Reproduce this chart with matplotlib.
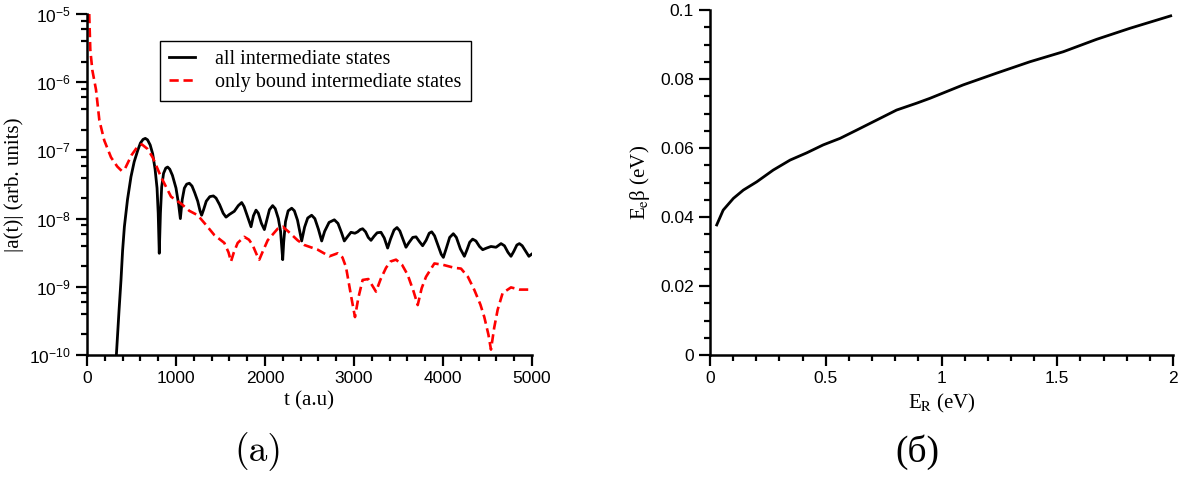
import numpy as np
import matplotlib
matplotlib.use('Agg')
import matplotlib.pyplot as plt
from matplotlib.ticker import LogLocator, MultipleLocator, NullFormatter

plt.rcParams['font.family'] = ['Liberation Sans', 'DejaVu Sans']
plt.rcParams['mathtext.fontset'] = 'stix'
plt.rcParams['mathtext.default'] = 'regular'

# (a) |a(t)| vs t, all intermediate states
t_all = [330, 360, 382, 400, 420, 455, 494, 530, 570, 600, 630, 655, 680, 710, 738,
         765, 787, 800, 812, 825, 839, 860, 885, 906, 930, 960, 1000, 1030, 1049, 1070,
         1094, 1120, 1150, 1180, 1210, 1244, 1270, 1288, 1310, 1340, 1380, 1420, 1450,
         1490, 1530, 1562, 1600, 1655, 1700, 1738, 1765, 1800, 1843, 1870, 1899, 1925,
         1960, 1993, 2020, 2050, 2086, 2115, 2150, 2175, 2190, 2199, 2210, 2230, 2260,
         2300, 2330, 2365, 2412, 2445, 2480, 2524, 2560, 2600, 2637, 2670, 2720, 2779,
         2820, 2860, 2891, 2930, 2966, 3010, 3041, 3070, 3097, 3130, 3160, 3191, 3225,
         3260, 3303, 3340, 3378, 3410, 3450, 3483, 3515, 3550, 3584, 3615, 3660, 3697,
         3735, 3771, 3810, 3845, 3873, 3905, 3945, 3980, 4004, 4035, 4075, 4116, 4150,
         4195, 4240, 4270, 4300, 4333, 4370, 4410, 4446, 4490, 4539, 4596, 4630, 4652,
         4690, 4730, 4764, 4795, 4830, 4858, 4890, 4930, 4965, 4995]
a_all = [1.0e-10, 4.5e-10, 1.26e-9, 3.4e-9, 7.6e-9, 1.9e-8, 4.1e-8, 6.8e-8, 1.0e-7,
         1.28e-7, 1.45e-7, 1.5e-7, 1.43e-7, 1.2e-7, 8.9e-8, 5.3e-8, 2.8e-8, 1.2e-8,
         3.1e-9, 1.2e-8, 2.9e-8, 4.6e-8, 5.5e-8, 5.7e-8, 5.3e-8, 4.3e-8, 2.8e-8, 1.6e-8,
         1.0e-8, 1.9e-8, 2.8e-8, 3.2e-8, 3.3e-8, 3.0e-8, 2.4e-8, 1.8e-8, 1.3e-8, 1.12e-8,
         1.35e-8, 1.8e-8, 2.1e-8, 2.15e-8, 2.0e-8, 1.6e-8, 1.2e-8, 1.05e-8, 1.15e-8,
         1.28e-8, 1.55e-8, 1.72e-8, 1.5e-8, 1.1e-8, 7.6e-9, 1.1e-8, 1.33e-8, 1.2e-8,
         8.5e-9, 6.9e-9, 9.5e-9, 1.35e-8, 1.55e-8, 1.4e-8, 1.0e-8, 6.5e-9, 3.5e-9, 2.5e-9,
         4.5e-9, 9.0e-9, 1.3e-8, 1.42e-8, 1.3e-8, 9.5e-9, 4.7e-9, 7.5e-9, 1.02e-8,
         1.12e-8, 1.0e-8, 7.0e-9, 4.7e-9, 6.5e-9, 8.8e-9, 9.6e-9, 8.5e-9, 6.2e-9, 4.7e-9,
         5.5e-9, 6.3e-9, 6.1e-9, 6.4e-9, 6.9e-9, 7.1e-9, 6.4e-9, 5.3e-9, 4.8e-9, 5.5e-9,
         6.2e-9, 6.3e-9, 5.2e-9, 3.7e-9, 5.0e-9, 6.8e-9, 7.4e-9, 6.6e-9, 5.0e-9, 3.8e-9,
         4.4e-9, 5.3e-9, 5.4e-9, 4.6e-9, 4.0e-9, 4.8e-9, 6.1e-9, 6.4e-9, 5.6e-9, 4.0e-9,
         3.0e-9, 2.7e-9, 3.6e-9, 5.3e-9, 6.0e-9, 5.3e-9, 3.6e-9, 2.8e-9, 3.5e-9, 4.5e-9,
         5.0e-9, 4.7e-9, 3.9e-9, 3.5e-9, 3.7e-9, 3.9e-9, 3.8e-9, 4.1e-9, 4.3e-9, 4.0e-9,
         3.2e-9, 2.8e-9, 3.3e-9, 4.1e-9, 4.3e-9, 4.0e-9, 3.3e-9, 2.8e-9, 3.0e-9]

# only bound intermediate states
t_bound = [25, 37, 60, 101, 139, 194, 270, 340, 390, 430, 500, 560, 615, 680, 738, 831,
           944, 1056, 1150, 1244, 1340, 1430, 1543, 1590, 1618, 1650, 1693, 1767, 1820,
           1861, 1905, 1936, 1975, 2030, 2142, 2200, 2260, 2367, 2442, 2592, 2723, 2816,
           2870, 2910, 2970, 3011, 3050, 3097, 3161, 3247, 3300, 3360, 3410, 3472, 3540,
           3603, 3670, 3716, 3760, 3809, 3903, 4000, 4127, 4202, 4280, 4352, 4420, 4464,
           4510, 4539, 4575, 4614, 4670, 4764, 4858, 4995]
a_bound = [1.0e-5, 3.0e-6, 1.5e-6, 7.8e-7, 2.75e-7, 1.4e-7, 7.9e-8, 5.8e-8, 5.0e-8,
           5.5e-8, 8.5e-8, 1.1e-7, 1.23e-7, 1.05e-7, 7.9e-8, 4.1e-8, 2.1e-8, 1.66e-8,
           1.3e-8, 1.12e-8, 8e-9, 5.75e-9, 4.4e-9, 3.2e-9, 2.35e-9, 3.2e-9, 4.4e-9, 5.4e-9,
           4.9e-9, 4.1e-9, 3.0e-9, 2.5e-9, 3.3e-9, 4.8e-9, 7.1e-9, 7.6e-9, 6.5e-9, 4.8e-9,
           4.1e-9, 3.5e-9, 2.8e-9, 3.1e-9, 2.7e-9, 1.95e-9, 7e-10, 3.6e-10, 7e-10, 1.26e-9,
           1.3e-9, 8.5e-10, 1.3e-9, 1.9e-9, 2.35e-9, 2.5e-9, 2.1e-9, 1.5e-9, 8.5e-10,
           5.4e-10, 9.5e-10, 1.4e-9, 2.2e-9, 2.1e-9, 1.9e-9, 1.85e-9, 1.4e-9, 9e-10,
           5.5e-10, 3.6e-10, 2.0e-10, 1.2e-10, 2.5e-10, 4.6e-10, 8.1e-10, 9.8e-10, 9.1e-10,
           9.1e-10]

# (б) E_e beta vs E_R
e_r = [0.029, 0.057, 0.101, 0.144, 0.202, 0.273, 0.346, 0.418, 0.489, 0.562, 0.634,
       0.720, 0.806, 0.893, 0.950, 1.094, 1.238, 1.382, 1.526, 1.670, 1.814, 1.99]
e_beta = [0.0377, 0.0420, 0.0454, 0.0478, 0.0502, 0.0536, 0.0565, 0.0586, 0.0609,
          0.0628, 0.0652, 0.0681, 0.0710, 0.0730, 0.0744, 0.0783, 0.0817, 0.0850,
          0.0879, 0.0915, 0.0947, 0.0983]

serif = ['Liberation Serif', 'DejaVu Serif']

fig = plt.figure(figsize=(11.9, 4.83), dpi=100)
ax1 = fig.add_axes([87/1190, 1-355/483, 445/1190, 341/483])
ax2 = fig.add_axes([710/1190, 1-355/483, 463/1190, 345/483])


def style(ax):
    for s in ['top', 'right']:
        ax.spines[s].set_visible(False)
    for s in ['left', 'bottom']:
        ax.spines[s].set_linewidth(1.8)
    ax.tick_params(which='major', length=8, width=1.6, labelsize=12.5, direction='out')
    ax.tick_params(which='minor', length=4.5, width=1.6, direction='out')


ax1.plot(t_all, a_all, color='black', lw=2.0, label='all intermediate states')
ax1.plot(t_bound, a_bound, color='#ff0000', lw=1.9, dashes=(3.5, 1.8),
         label='only bound intermediate states')
ax1.set_yscale('log')
ax1.set_xlim(0, 5000)
ax1.set_ylim(1e-10, 1e-5)
ax1.xaxis.set_major_locator(MultipleLocator(1000))
ax1.xaxis.set_minor_locator(MultipleLocator(200))
ax1.yaxis.set_major_locator(LogLocator(base=10, numticks=10))
ax1.yaxis.set_minor_locator(LogLocator(base=10, subs=[2, 4, 6, 8], numticks=10))
ax1.yaxis.set_minor_formatter(NullFormatter())
style(ax1)
ax1.set_xlabel('t (a.u)', family=serif, fontsize=15, labelpad=4)
ax1.set_ylabel('|a(t)| (arb. units)', family=serif, fontsize=15, labelpad=4)
leg = ax1.legend(loc='upper left', bbox_to_anchor=(0.164, 0.92), frameon=True,
                 fancybox=False, edgecolor='black', framealpha=1, borderaxespad=0,
                 prop={'family': serif, 'size': 14.5}, handlelength=1.3,
                 handletextpad=1.0, labelspacing=0.15, borderpad=0.45)
leg.get_frame().set_linewidth(1.0)

ax2.plot(e_r, e_beta, color='black', lw=2.0)
ax2.set_xlim(0, 2)
ax2.set_ylim(0, 0.1)
ax2.xaxis.set_major_locator(MultipleLocator(0.5))
ax2.xaxis.set_minor_locator(MultipleLocator(0.1))
ax2.yaxis.set_major_locator(MultipleLocator(0.02))
ax2.yaxis.set_minor_locator(MultipleLocator(0.005))
ax2.xaxis.set_major_formatter(plt.FuncFormatter(lambda v, p: f'{v:g}'))
ax2.yaxis.set_major_formatter(plt.FuncFormatter(lambda v, p: f'{v:g}'))
style(ax2)
ax2.set_xlabel(r'E$_\mathrm{R}$ (eV)', family=serif, fontsize=15, labelpad=4)
ax2.set_ylabel(r'E$_\mathrm{e}$β (eV)', family=serif, fontsize=15, labelpad=6)

fig.text(258/1190, 1-452/483, '(a)', family=['cmr10', 'DejaVu Serif'], fontsize=27,
         ha='center', va='center')
fig.text(917/1190, 1-452/483, '(б)', family=['Liberation Serif', 'DejaVu Serif'],
         fontsize=27, ha='center', va='center')

fig.savefig('out.png', dpi=100)
